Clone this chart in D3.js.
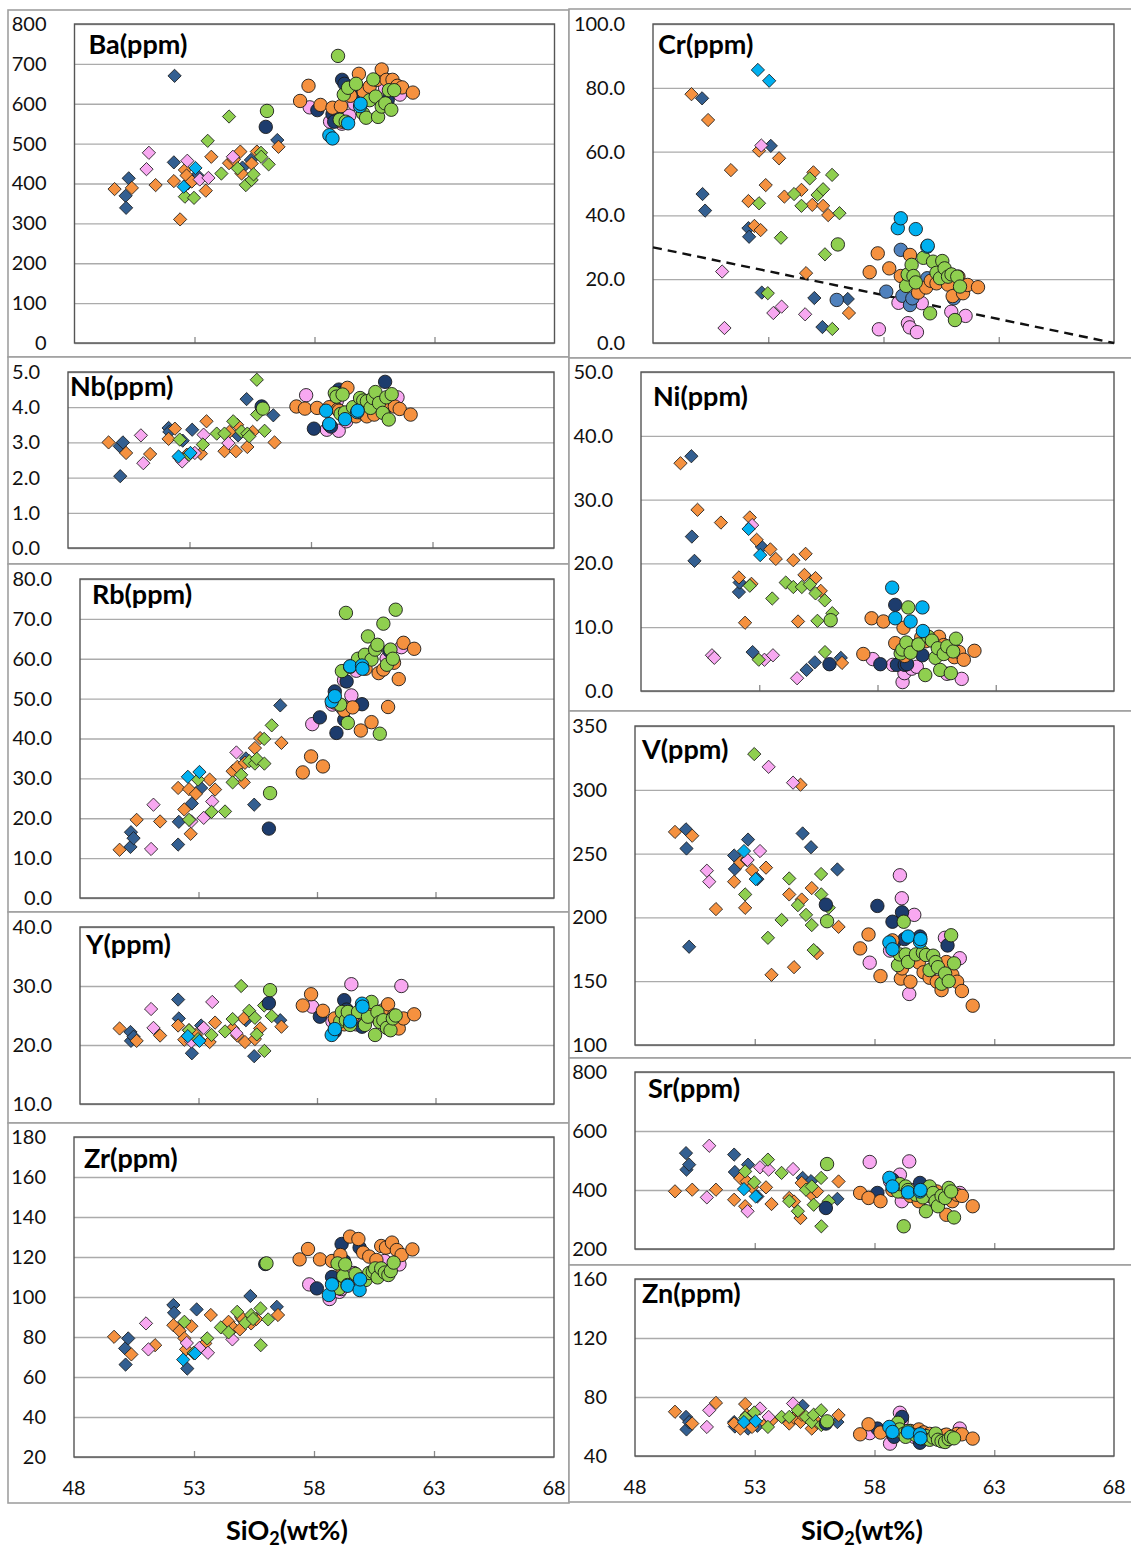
<!DOCTYPE html>
<html>
<head>
<meta charset="utf-8">
<script src="https://cdn.jsdelivr.net/npm/d3@7"></script>
<style>
  body { margin: 0; background: #fff; }
  svg text { font-family: Lato, "Liberation Sans", Arial, sans-serif; }
</style>
</head>
<body>
<svg id="chart" width="1131" height="1550"></svg>
<script>
// SiO2 (wt%) of each sample group
// BD steel-blue diamonds, OD orange diamonds, PD pink diamonds, GD green diamonds, CD cyan diamonds
// NC navy circles, CC cyan circles, PC pink circles, OC orange circles, GC green circles
const sio2_BD = [50.13, 50.15, 50.26, 52.14, 52.17, 52.72, 53.11, 55.0, 55.35, 56.45]
const sio2_OD = [49.67, 50.39, 51.38, 52.14, 52.4, 52.6, 52.67, 52.89, 53.47, 53.7, 54.44, 54.64, 54.91, 54.96, 55.38, 55.6, 56.5]
const sio2_PD = [51.0, 51.1, 52.7, 53.22, 53.58, 54.6]
const sio2_GD = [52.6, 52.98, 53.55, 54.12, 54.44, 54.8, 55.14, 55.38, 55.46, 55.77, 55.78, 56.09]
const sio2_CD = [52.55, 53.04]
const sio2_NC = [55.97, 58.12, 58.75, 58.82, 59.15, 59.25, 59.9, 61.05]
const sio2_CC = [58.62, 58.75, 59.4, 59.9, 59.92]
const sio2_PC = [57.8, 58.65, 59.06, 59.14, 59.45, 59.66, 60.94, 61.56]
const sio2_OC = [57.4, 57.75, 58.25, 58.75, 59.1, 59.15, 59.5, 59.85, 60.05, 60.3, 60.6, 60.8, 61.0, 61.25, 61.45, 61.65, 62.1]
const sio2_GC = [56.02, 58.98, 59.05, 59.22, 59.3, 59.4, 59.73, 60.02, 60.15, 60.3, 60.45, 60.55, 60.65, 60.8, 60.95, 61.1, 61.2, 61.32]

// Ba (ppm)
const ba_BD = [369, 339, 413, 453, 670, 400, 421, 440, 459, 509]
const ba_OD = [386, 389, 396, 406, 310, 434, 420, 405, 382, 467, 451, 460, 480, 425, 450, 480, 492]
const ba_PD = [436, 477, 457, 410, 414, 467]
const ba_GD = [367, 364, 507, 425, 568, 438, 396, 409, 423, 477, 467, 448]
const ba_CD = [392, 439]
const ba_NC = [542, 584, 574, 555, 660, 650, 618, 609]
const ba_CC = [521, 513, 551, 594, 600]
const ba_PC = [591, 555, 560, 550, 570, 600, 640, 623]
const ba_OC = [607, 645, 597, 590, 594, 555, 620, 675, 630, 643, 660, 686, 660, 660, 645, 641, 628]
const ba_GC = [582, 720, 560, 623, 555, 640, 650, 576, 565, 609, 661, 618, 567, 593, 601, 634, 585, 634]

// Cr (ppm)
const cr_BD = [76.7, 46.7, 41.5, 36, 33.3, 15.8, 61.8, 14.1, 5, 13.8]
const cr_OD = [78, 69.9, 54.2, 44.5, 36.7, 60.3, 35.4, 49.5, 57.9, 45.9, 48, 21.9, 43.3, 53.5, 43, 40.1, 9.4]
const cr_PD = [22.4, 4.7, 61.9, 9.4, 11.4, 9]
const cr_GD = [43.8, 15.6, 33, 46.7, 43, 51.6, 46.4, 48.2, 27.8, 52.7, 4.4, 40.7]
const cr_CD = [85.6, 82.2]
const cr_NC = [13.5, 16.1, 29.2, 14.8, 11.9, 14, 20.3, 14]
const cr_CC = [36, 39.1, 35.7, 30.2, 30.5]
const cr_PC = [4.3, 12.6, 6.2, 4.9, 3.4, 12.5, 9.8, 8.5]
const cr_OC = [22.2, 28.1, 23.4, 21, 20.8, 27.6, 15.8, 17.4, 19.5, 18.7, 20.5, 18.3, 14.7, 20.8, 15.6, 18.2, 17.5]
const cr_GC = [30.9, 17.9, 21.5, 24.5, 21, 19, 26.7, 9.3, 25.5, 22, 20.3, 25.7, 23.4, 20.8, 21.5, 7.2, 20.8, 17.7]
const cr_limit = [[48, 30], [68, 0]]

// Nb (ppm)
const nb_BD = [2.89, 2.04, 3.0, 3.41, 3.3, 3.05, 3.36, 3.2, 4.23, 3.77]
const nb_OD = [3.0, 2.7, 2.67, 3.1, 3.39, 2.55, 2.5, 2.65, 2.68, 3.6, 2.75, 3.3, 2.75, 3.5, 2.87, 3.3, 3.0]
const nb_PD = [3.2, 2.41, 2.46, 2.7, 3.22, 2.98]
const nb_GD = [3.08, 2.65, 2.94, 3.25, 3.25, 3.6, 3.31, 3.25, 3.17, 4.78, 3.79, 3.33]
const nb_CD = [2.6, 2.7]
const nb_NC = [4.02, 3.39, 3.5, 3.45, 4.5, 4.4, 3.8, 4.72]
const nb_CC = [3.9, 3.52, 3.66, 3.86, 3.9]
const nb_PC = [4.34, 3.36, 4.17, 3.33, 3.6, 3.9, 4.1, 4.28]
const nb_OC = [4.02, 3.96, 3.98, 4.0, 3.93, 3.9, 4.55, 3.74, 3.85, 3.74, 3.79, 4.09, 3.9, 4.07, 4.02, 3.95, 3.79]
const nb_GC = [3.96, 4.4, 4.3, 3.81, 4.36, 3.85, 4.0, 4.26, 4.19, 4.17, 3.98, 4.26, 4.43, 4.12, 3.84, 4.28, 3.65, 4.37]

// Ni (ppm)
const ni_BD = [36.8, 24.2, 20.4, 15.5, 17, 6.1, 22.6, 3.3, 4.5, 5.2]
const ni_OD = [35.7, 28.4, 26.4, 17.8, 10.7, 27.2, 16.8, 23.7, 22.2, 20.7, 20.5, 10.9, 18.2, 21.5, 17.7, 15.7, 4.4]
const ni_PD = [5.6, 5.2, 26, 4.9, 5.6, 2]
const ni_GD = [16.5, 4.9, 14.5, 17, 16.3, 16.3, 16.7, 15.3, 11, 14.2, 6.1, 12.2]
const ni_CD = [25.4, 21.3]
const ni_NC = [4.2, 4.2, 13.5, 4.1, 4.1, 4.2, 5.6, 6]
const ni_CC = [16.2, 11.4, 10.9, 13.1, 9.4]
const ni_PC = [5, 4.1, 1.4, 2.8, 3.5, 3.8, 2.7, 1.9]
const ni_OC = [5.8, 11.4, 10.9, 7.5, 9.9, 5.5, 7, 8.4, 7.8, 8, 8.5, 7.2, 6.5, 5.3, 6.1, 4.9, 6.3]
const ni_GC = [11.1, 5.9, 6.5, 7.6, 13.1, 6, 7.3, 2.5, 8.5, 7.9, 5.2, 6.7, 3.3, 5.8, 7, 2.8, 6.2, 8.2]

// Rb (ppm)
const rb_BD = [12.8, 16.5, 15, 13.4, 19.1, 23.7, 27.6, 35, 23.4, 48.3]
const rb_OD = [12.1, 19.6, 19.2, 27.6, 22.2, 27.3, 16.1, 26.1, 29.7, 27.2, 31.8, 32.9, 29, 33.9, 37.6, 40.1, 38.9]
const rb_PD = [12.3, 23.4, 19.2, 20.1, 24.2, 36.5]
const rb_GD = [19.6, 29.7, 21.6, 21.7, 29, 30.9, 34.3, 33.7, 34.9, 39.9, 33.7, 43.3]
const rb_CD = [30.4, 31.6]
const rb_NC = [17.4, 45.3, 51.8, 41.4, 44.7, 54.3, 48.6, 62]
const rb_CC = [49.3, 50.6, 58.1, 58.3, 57.5]
const rb_PC = [43.6, 48.5, 47.7, 54.6, 50.8, 57, 60, 62.9]
const rb_OC = [31.5, 35.5, 33, 49, 48, 47, 47.8, 42, 57.5, 44.1, 56.4, 57.3, 47.9, 59, 54.9, 64, 62.5]
const rb_GC = [26.3, 48.5, 56.9, 71.5, 43.9, 58, 60, 61, 65.6, 59.8, 62.3, 63.5, 41.2, 68.8, 58.5, 62.3, 60, 72.3]

// V (ppm)
const v_BD = [269, 254, 177, 248.5, 238, 261, 230, 265.8, 255, 237.6]
const v_OD = [267, 264, 206.5, 228, 243, 207.5, 245, 237, 239, 155, 218, 161, 304, 214, 223, 172, 192.6]
const v_PD = [236.6, 228, 245, 252, 318, 305.6]
const v_GD = [218, 328, 184, 198, 230.5, 209.6, 202, 194, 174.4, 234, 218, 207.6]
const v_CD = [252, 230]
const v_NC = [210, 209, 196.6, 180, 204, 183, 185, 178]
const v_CC = [180.4, 175, 185, 181, 183]
const v_PC = [164.5, 174, 233, 215, 140, 202, 184, 168]
const v_OC = [175.7, 186.6, 154, 182, 152, 160, 149.6, 164.7, 157, 152.7, 149.6, 143, 165, 155, 149.6, 142.3, 130.8]
const v_GC = [197, 162.6, 171, 196.6, 171, 165, 171, 172.5, 170.5, 158.7, 170, 165, 161, 148, 156, 150, 186, 164]

// Y (ppm)
const y_BD = [22.2, 20.7, 21.4, 27.7, 24.5, 18.6, 23.3, 24.2, 18.1, 24.2]
const y_OD = [22.8, 20.7, 21.6, 23.3, 20.9, 22.5, 21, 21.7, 20.5, 23.8, 22.8, 21.6, 24.5, 20.5, 21, 22.8, 23.1]
const y_PD = [26.1, 22.9, 20.6, 22.9, 27.3, 22]
const y_GD = [22.5, 21, 21.7, 22.3, 24.4, 30, 25.8, 24.6, 21.8, 26.7, 19, 24.9]
const y_CD = [21.5, 20.7]
const y_NC = [27.1, 24.8, 22.3, 23.5, 27.6, 26, 23.1, 25]
const y_CC = [21.7, 22.7, 24, 27, 26.5]
const y_PC = [26.5, 24, 25.1, 24.5, 30.3, 23.5, 23, 30]
const y_OC = [26.7, 28.6, 25.8, 24.5, 24, 23.5, 24.8, 25.5, 25, 26.5, 24.3, 25.9, 26.9, 25, 22.8, 24.5, 25.2]
const y_GC = [29.3, 24, 25.6, 24.2, 25.6, 23.4, 25.6, 23.4, 24.8, 27.3, 21.7, 25.6, 23.9, 24.2, 22.9, 22.5, 24.5, 25]

// Sr (ppm)
const sr_BD = [525, 469, 486, 520, 461, 486, 378, 441, 430, 370]
const sr_OD = [395.5, 401, 401, 367, 440, 345, 429, 410, 409, 352.5, 373, 361, 305, 424, 384, 395, 429]
const sr_PD = [375, 550, 328, 477, 469, 471]
const sr_GD = [463, 426, 503, 458, 362, 328, 401, 412, 350, 441, 277, 362]
const sr_CD = [403, 378]
const sr_NC = [339, 390, 435, 407, 410, 395, 424, 384]
const sr_CC = [441, 412, 392, 395, 400]
const sr_PC = [495, 430, 452, 362, 497, 400, 380, 390]
const sr_OC = [390, 373, 362, 400, 407, 395, 380, 362, 385, 380, 395, 370, 316, 362, 384, 380, 345]
const sr_GC = [488, 395, 420, 277, 412, 400, 384, 375, 328, 412, 390, 362, 345, 380, 373, 407, 395, 307]

// Zr (ppm)
const zr_BD = [74.3, 66.2, 79.3, 96, 92.1, 64.2, 93.8, 89, 100.5, 95.1]
const zr_OD = [80.1, 71.3, 75.9, 85.9, 83.1, 79.3, 73.8, 85.4, 76.8, 91, 87.6, 84.5, 83.8, 90, 86.8, 89, 91]
const zr_PD = [86.8, 73.8, 77, 74.5, 72.1, 78.8]
const zr_GD = [87.6, 72, 79.3, 84.8, 82.3, 92.6, 87.1, 91, 89, 94.3, 75.9, 88.8]
const zr_CD = [68.7, 71.8]
const zr_NC = [116.5, 104.3, 110, 106, 126.5, 118, 124.7, 125]
const zr_CC = [101, 106.3, 105.6, 103.5, 108.8]
const zr_PC = [106.3, 99, 102.6, 104, 108, 112, 118, 116.3]
const zr_OC = [118.8, 124, 118.8, 118, 121, 115, 130.2, 129, 122.2, 120.2, 118.5, 125.5, 124.7, 127.2, 123.5, 121, 123.8]
const zr_GC = [116.8, 116.8, 104.3, 110.5, 116.3, 106, 111.5, 108.8, 108.5, 112, 112.6, 114.3, 109.8, 114.3, 112.2, 111, 113, 117.2]

// Zn (ppm)
const zn_BD = [66.5, 58, 63, 63, 60, 58.6, 60.5, 74, 64, 63]
const zn_OD = [70, 62, 76, 62, 58.6, 75.2, 67.7, 59.7, 62, 64, 62, 66, 63.1, 68, 58.6, 63, 67.7]
const zn_PD = [59.7, 71, 65, 72.2, 66.5, 75.6]
const zn_GD = [66, 69.5, 59.7, 66.5, 66.5, 71, 66.5, 63, 68, 71, 61, 63]
const zn_CD = [63, 63.6]
const zn_NC = [62, 58.6, 55, 53, 66.5, 56, 49, 52]
const zn_CC = [59.7, 56.3, 56, 54.7, 52]
const zn_PC = [55.5, 48.4, 69.3, 64, 55, 53, 54, 58.6]
const zn_OC = [54.7, 61.5, 55.9, 57, 58, 56, 57, 58, 56, 55, 54, 53.5, 54.5, 53, 55, 54.7, 51.8]
const zn_GC = [63.5, 62.5, 58, 55, 53, 57, 54, 52, 53.5, 51, 52.5, 55.2, 51, 50, 49.5, 51.5, 53, 52]

const xTicks = [48, 53, 58, 63, 68]

// draw order = stacking order
const groups = [
  {key: "BD", sio2: sio2_BD, shape: "diamond", fill: "#335f91"},
  {key: "OD", sio2: sio2_OD, shape: "diamond", fill: "#f5913f"},
  {key: "PD", sio2: sio2_PD, shape: "diamond", fill: "#f8a8f1"},
  {key: "GD", sio2: sio2_GD, shape: "diamond", fill: "#8fcf4f"},
  {key: "CD", sio2: sio2_CD, shape: "diamond", fill: "#00b0f0"},
  {key: "PC", sio2: sio2_PC, shape: "circle", fill: "#f8a8f1"},
  {key: "NC", sio2: sio2_NC, shape: "circle", fill: "#1d3c6d"},
  {key: "OC", sio2: sio2_OC, shape: "circle", fill: "#f5913f"},
  {key: "GC", sio2: sio2_GC, shape: "circle", fill: "#8fcf4f"},
  {key: "CC", sio2: sio2_CC, shape: "circle", fill: "#00b0f0"}
]

const panels = [
  {name: "Ba", col: 0, px: [74.5, 554.5], py: [24, 343], box: [10, 357], dom: [0, 800], step: 100, fmt: "d", tx: 14, ty: 30,
   vals: {BD: ba_BD, OD: ba_OD, PD: ba_PD, GD: ba_GD, CD: ba_CD, NC: ba_NC, CC: ba_CC, PC: ba_PC, OC: ba_OC, GC: ba_GC}},
  {name: "Nb", col: 0, px: [68, 554], py: [372, 548], box: [357, 564], dom: [0, 5], step: 1, fmt: ".1f", tx: 2, ty: 24,
   vals: {BD: nb_BD, OD: nb_OD, PD: nb_PD, GD: nb_GD, CD: nb_CD, NC: nb_NC, CC: nb_CC, PC: nb_PC, OC: nb_OC, GC: nb_GC}},
  {name: "Rb", col: 0, px: [80, 554], py: [579, 898], box: [564, 912], dom: [0, 80], step: 10, fmt: ".1f", tx: 12, ty: 25,
   vals: {BD: rb_BD, OD: rb_OD, PD: rb_PD, GD: rb_GD, CD: rb_CD, NC: rb_NC, CC: rb_CC, PC: rb_PC, OC: rb_OC, GC: rb_GC}},
  {name: "Y", col: 0, px: [80, 554], py: [927, 1104], box: [912, 1123], dom: [10, 40], step: 10, fmt: ".1f", tx: 6, ty: 27,
   vals: {BD: y_BD, OD: y_OD, PD: y_PD, GD: y_GD, CD: y_CD, NC: y_NC, CC: y_CC, PC: y_PC, OC: y_OC, GC: y_GC}},
  {name: "Zr", col: 0, px: [74, 554], py: [1137, 1457], box: [1123, 1503], dom: [20, 180], step: 20, fmt: "d", tx: 10, ty: 31, xlab: true,
   vals: {BD: zr_BD, OD: zr_OD, PD: zr_PD, GD: zr_GD, CD: zr_CD, NC: zr_NC, CC: zr_CC, PC: zr_PC, OC: zr_OC, GC: zr_GC}},
  {name: "Cr", col: 1, px: [653, 1114], py: [24, 343], box: [9, 358], dom: [0, 100], step: 20, fmt: ".1f", tx: 5, ty: 30, navy: "#4f81bd",
   vals: {BD: cr_BD, OD: cr_OD, PD: cr_PD, GD: cr_GD, CD: cr_CD, NC: cr_NC, CC: cr_CC, PC: cr_PC, OC: cr_OC, GC: cr_GC}},
  {name: "Ni", col: 1, px: [641, 1114], py: [372, 691], box: [358, 711], dom: [0, 50], step: 10, fmt: ".1f", tx: 12, ty: 34,
   vals: {BD: ni_BD, OD: ni_OD, PD: ni_PD, GD: ni_GD, CD: ni_CD, NC: ni_NC, CC: ni_CC, PC: ni_PC, OC: ni_OC, GC: ni_GC}},
  {name: "V", col: 1, px: [635, 1114], py: [726, 1045], box: [711, 1058], dom: [100, 350], step: 50, fmt: "d", tx: 7, ty: 33,
   vals: {BD: v_BD, OD: v_OD, PD: v_PD, GD: v_GD, CD: v_CD, NC: v_NC, CC: v_CC, PC: v_PC, OC: v_OC, GC: v_GC}},
  {name: "Sr", col: 1, px: [635, 1114], py: [1072, 1249], box: [1058, 1265], dom: [200, 800], step: 200, fmt: "d", tx: 13, ty: 26,
   vals: {BD: sr_BD, OD: sr_OD, PD: sr_PD, GD: sr_GD, CD: sr_CD, NC: sr_NC, CC: sr_CC, PC: sr_PC, OC: sr_OC, GC: sr_GC}},
  {name: "Zn", col: 1, px: [635, 1114], py: [1279, 1456], box: [1265, 1502], dom: [40, 160], step: 40, fmt: "d", tx: 7, ty: 24, xlab: true,
   vals: {BD: zn_BD, OD: zn_OD, PD: zn_PD, GD: zn_GD, CD: zn_CD, NC: zn_NC, CC: zn_CC, PC: zn_PC, OC: zn_OC, GC: zn_GC}}
]

const svg = d3.select("#chart")
const colX = [[8, 569], [569, 1140]]
const diamond = d3.symbol().type(d3.symbolSquare).size(88)

panels.forEach(p => {
  const bx = colX[p.col]
  svg.append("rect")
    .attr("x", bx[0]).attr("y", p.box[0])
    .attr("width", bx[1] - bx[0]).attr("height", p.box[1] - p.box[0])
    .attr("fill", "#fff").attr("stroke", "#a0a0a0").attr("stroke-width", 1.6)

  const x = d3.scaleLinear().domain([48, 68]).range(p.px)
  const y = d3.scaleLinear().domain(p.dom).range([p.py[1], p.py[0]])
  const w = p.px[1] - p.px[0]

  // gridlines + y labels
  const ya = svg.append("g")
    .attr("transform", `translate(${p.px[0]},0)`)
    .call(d3.axisLeft(y)
      .tickValues(d3.range(p.dom[0], p.dom[1] + p.step / 2, p.step))
      .tickSize(-w).tickPadding(28)
      .tickFormat(d3.format(p.fmt)))
  ya.select(".domain").remove()
  ya.selectAll(".tick line").attr("stroke", "#ababab").attr("stroke-width", 1.3)
  ya.selectAll(".tick text").attr("font-size", 20).attr("fill", "#111")
    .style("font-family", "Lato, 'Liberation Sans', sans-serif")

  // small inner ticks on the bottom edge
  const xa = svg.append("g")
    .attr("transform", `translate(0,${p.py[1]})`)
    .call(d3.axisBottom(x).tickValues([53, 58, 63]).tickSize(-6).tickFormat(""))
  xa.select(".domain").remove()
  xa.selectAll(".tick line").attr("stroke", "#8a8a8a").attr("stroke-width", 1.3)

  if (p.xlab) {
    svg.append("g").selectAll("text")
      .data(xTicks).enter().append("text")
      .attr("x", d => x(d)).attr("y", p.py[1] + 38)
      .attr("text-anchor", "middle")
      .attr("font-size", 20).attr("fill", "#111")
      .text(d => d)
  }

  // plot area border
  svg.append("rect")
    .attr("x", p.px[0]).attr("y", p.py[0])
    .attr("width", w).attr("height", p.py[1] - p.py[0])
    .attr("fill", "none").attr("stroke", "#555").attr("stroke-width", 1.4)

  if (p.name == "Cr") {
    svg.append("path")
      .attr("d", d3.line().x(d => x(d[0])).y(d => y(d[1]))(cr_limit))
      .attr("stroke", "#111").attr("stroke-width", 2.4)
      .attr("stroke-dasharray", "9,6").attr("fill", "none")
  }

  groups.forEach(g => {
    const pts = g.sio2.map((s, i) => [s, p.vals[g.key][i]])
    const fill = (g.key == "NC" && p.navy) ? p.navy : g.fill
    const sel = svg.append("g").selectAll("path")
      .data(pts).enter()
    if (g.shape == "circle") {
      sel.append("circle")
        .attr("cx", d => x(d[0])).attr("cy", d => y(d[1]))
        .attr("r", 6.7)
        .attr("fill", fill).attr("stroke", "#1a1a1a").attr("stroke-width", 0.9)
    } else {
      sel.append("path")
        .attr("d", diamond)
        .attr("transform", d => `translate(${x(d[0])},${y(d[1])}) rotate(45)`)
        .attr("fill", fill).attr("stroke", "#1a1a1a").attr("stroke-width", 0.8)
    }
  })

  svg.append("text")
    .attr("x", p.px[0] + p.tx).attr("y", p.py[0] + p.ty)
    .attr("font-size", 27).attr("font-weight", "bold").attr("fill", "#000")
    .text(p.name + "(ppm)")
})

// x axis titles
;[287, 862].forEach(cx => {
  const t = svg.append("text")
    .attr("x", cx).attr("y", 1540)
    .attr("text-anchor", "middle")
    .attr("font-size", 27).attr("font-weight", "bold")
  t.append("tspan").text("SiO")
  t.append("tspan").attr("font-size", 18).attr("dy", 5).text("2")
  t.append("tspan").attr("dy", -5).text("(wt%)")
})
</script>
</body>
</html>
